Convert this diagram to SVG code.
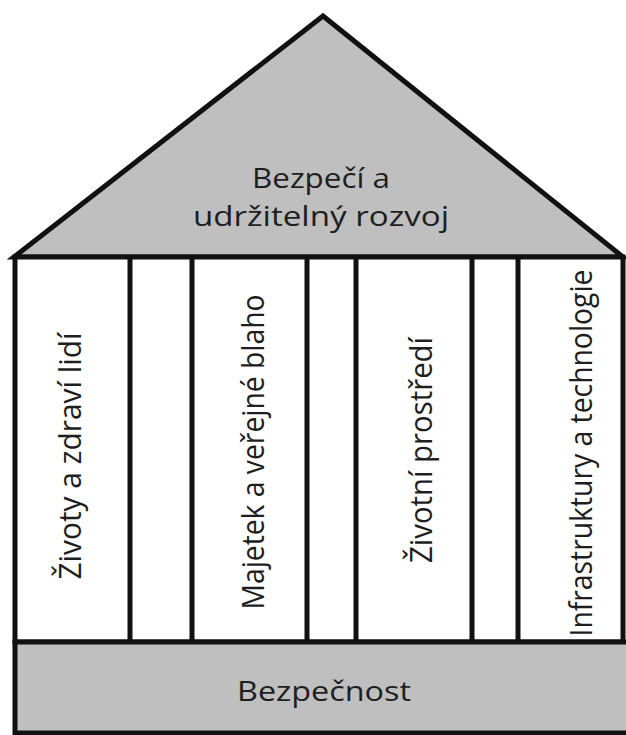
<svg xmlns="http://www.w3.org/2000/svg" width="626" height="735" viewBox="0 0 626 735">
<style>
.sh{stroke:#111;stroke-width:5;stroke-linejoin:miter}
.g{fill:#bfbfbf}
.w{fill:#fff}
.t{font-family:"Open Sans","Liberation Sans",sans-serif;font-size:27px;fill:#1e1e1e}
.v{font-size:31px}
</style>
<rect width="626" height="735" fill="#fff"/>
<g id="roof">
<polygon class="sh g" points="323,16 14,257 623,257"/>
<text class="t" x="321" y="188" text-anchor="middle" textLength="138" lengthAdjust="spacingAndGlyphs">Bezpečí a</text>
<text class="t" x="321" y="226" text-anchor="middle" textLength="256" lengthAdjust="spacingAndGlyphs">udržitelný rozvoj</text>
</g>
<g id="pillars">
<rect class="sh w" x="15" y="257" width="608" height="385"/>
</g>
<g id="connectors">
<line class="sh" x1="130" y1="257" x2="130" y2="642"/>
<line class="sh" x1="192" y1="257" x2="192" y2="642"/>
<line class="sh" x1="307" y1="257" x2="307" y2="642"/>
<line class="sh" x1="356" y1="257" x2="356" y2="642"/>
<line class="sh" x1="472" y1="257" x2="472" y2="642"/>
<line class="sh" x1="518" y1="257" x2="518" y2="642"/>
</g>
<g id="p1"><text class="t v" transform="translate(81,456) rotate(-90)" text-anchor="middle" textLength="247" lengthAdjust="spacingAndGlyphs">Životy a zdraví lidí</text></g>
<g id="p2"><text class="t v" transform="translate(264,452) rotate(-90)" text-anchor="middle" textLength="315" lengthAdjust="spacingAndGlyphs">Majetek a veřejné blaho</text></g>
<g id="p3"><text class="t v" transform="translate(432,450) rotate(-90)" text-anchor="middle" textLength="226" lengthAdjust="spacingAndGlyphs">Životní prostředí</text></g>
<g id="p4"><text class="t v" transform="translate(592,453) rotate(-90)" text-anchor="middle" textLength="367" lengthAdjust="spacingAndGlyphs">Infrastruktury a technologie</text></g>
<g id="base">
<rect class="sh g" x="15" y="642" width="620" height="91"/>
<text class="t" x="324" y="701" text-anchor="middle" textLength="174" lengthAdjust="spacingAndGlyphs">Bezpečnost</text>
</g>
</svg>
